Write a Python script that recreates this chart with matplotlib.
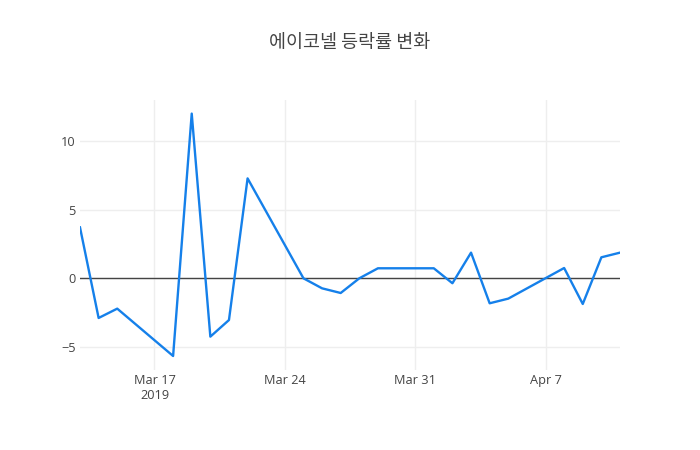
import pandas as pd
import matplotlib
matplotlib.use('Agg')
import matplotlib.pyplot as plt
import matplotlib.dates as mdates

# 데이터
dates = ['2019-03-13', '2019-03-14', '2019-03-15', '2019-03-18', '2019-03-19',
         '2019-03-20', '2019-03-21', '2019-03-22', '2019-03-25', '2019-03-26',
         '2019-03-27', '2019-03-28', '2019-03-29', '2019-04-01', '2019-04-02',
         '2019-04-03', '2019-04-04', '2019-04-05', '2019-04-08', '2019-04-09',
         '2019-04-10', '2019-04-11']
rates = [3.71, -2.89, -2.21, -5.66, 12.0,
         -4.25, -3.04, 7.28, 0.0, -0.73,
         -1.07, 0.0, 0.73, 0.73, -0.36,
         1.87, -1.82, -1.48, 0.75, -1.87,
         1.53, 1.87]
tick_dates = ['2019-03-17', '2019-03-24', '2019-03-31', '2019-04-07']
tick_labels = ['Mar 17\n2019', 'Mar 24', 'Mar 31', 'Apr 7']
y_ticks = [-5, 0, 5, 10]
title = '에이코넬 등락률 변화'

x = pd.to_datetime(dates)

plt.rcParams['font.family'] = ['Open Sans', 'Noto Sans CJK KR', 'DejaVu Sans']

fig = plt.figure(figsize=(7, 4.5), dpi=100)
ax = fig.add_axes([80/700, 1 - 370/450, 540/700, 270/450])

ax.plot(x, rates, color='#1580ea', linewidth=1.7, zorder=3)
ax.axhline(0, color='#444444', linewidth=1, zorder=2)

ax.set_xlim(x[0], x[-1])
ax.set_ylim(-6.68, 12.99)

ax.set_xticks(pd.to_datetime(tick_dates))
ax.set_xticklabels(tick_labels, linespacing=1.15)
ax.set_yticks(y_ticks)
ax.set_yticklabels(['\u22125', '0', '5', '10'])

ax.grid(True, color='#eeeeee', linewidth=1, zorder=0)
for s in ax.spines.values():
    s.set_visible(False)
ax.tick_params(length=0, labelsize=9.2, colors='#444444')
ax.tick_params(axis='y', pad=3)
ax.tick_params(axis='x', pad=3)

fig.text(0.5, 1 - 43/450, title, ha='center', va='center', fontsize=13.3,
         color='#444444', family=['Noto Sans CJK KR', 'DejaVu Sans'])

fig.savefig('out.png', dpi=100, facecolor='white')
